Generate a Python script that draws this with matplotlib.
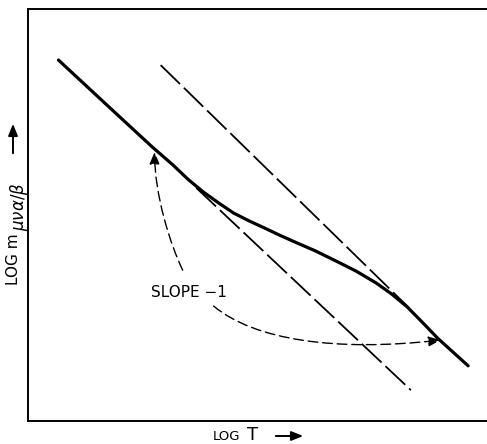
import matplotlib
matplotlib.use("Agg")
import matplotlib.pyplot as plt
from matplotlib.path import Path
from matplotlib.patches import FancyArrowPatch

# log T / log m, arbitrary units
log_t = [0.65, 1.78, 2.65, 3.09, 3.41, 3.74, 4.07, 4.39, 4.72, 5.04, 5.37,
         5.70, 6.13, 6.57, 7.00, 7.43, 7.76, 8.09, 8.41, 8.74, 9.39]
log_m = [7.85, 6.78, 5.96, 5.57, 5.26, 4.98, 4.74, 4.52, 4.35, 4.20, 4.04,
         3.89, 3.70, 3.48, 3.26, 3.00, 2.76, 2.48, 2.15, 1.80, 1.20]

# the two slope -1 asymptotes
low_t = [3.59, 8.17]
low_m = [5.07, 0.67]
high_t = [2.83, 8.13]
high_m = [7.74, 2.46]

# curved pointers from the label (start, two controls, tip)
ptr1_t = [3.30, 3.04, 2.70, 2.70]
ptr1_m = [3.28, 3.83, 4.91, 5.85]
ptr2_t = [3.96, 4.83, 6.57, 8.80]
ptr2_m = [2.50, 1.76, 1.50, 1.76]

fig = plt.figure(figsize=(4.87, 4.44), dpi=100)
ax = fig.add_axes([28/487, 23/444, 1 - 28/487 + 0.02, 412/444])
ax.set_xlim(0, 10)
ax.set_ylim(0, 8.96)
ax.set_xticks([])
ax.set_yticks([])
for s in ["left", "top", "bottom"]:
    ax.spines[s].set_linewidth(1.4)
ax.spines["right"].set_visible(False)

ax.plot(log_t, log_m, color="black", lw=2.3, solid_capstyle="round",
        solid_joinstyle="round")
ax.plot(low_t, low_m, color="black", lw=1.3, dashes=(15, 3))
ax.plot(high_t, high_m, color="black", lw=1.3, dashes=(15, 3))

codes = [Path.MOVETO, Path.CURVE4, Path.CURVE4, Path.CURVE4]
for tt, mm in [(ptr1_t, ptr1_m), (ptr2_t, ptr2_m)]:
    p = Path(list(zip(tt, mm)), codes)
    arr = FancyArrowPatch(path=p, arrowstyle="-|>,head_length=0.6,head_width=0.25",
                          mutation_scale=12, color="black", lw=1.0,
                          linestyle=(0, (7, 3.5)))
    ax.add_patch(arr)

ax.text((186 - 28) / 46, (421 - 292) / 46, "SLOPE \u22121",
        fontsize=11, ha="center", va="center")

# axis labels
fig.text(227/487, 4/444, "LOG", fontsize=9.5, ha="center", va="baseline")
fig.text(253/487, 4/444, "T", fontsize=13, ha="center", va="baseline")
fig.patches.append(FancyArrowPatch((273/487, 8/444), (306/487, 8/444),
                                   transform=fig.transFigure, figure=fig,
                                   arrowstyle="-|>,head_length=0.5,head_width=0.2",
                                   mutation_scale=14, color="black", lw=1.4))

fig.text(14/487, (444 - 259)/444, "LOG m", fontsize=11, rotation=90,
         ha="center", va="center")
fig.text(19/487, (444 - 207)/444, r"$\mu\nu\alpha/\beta$", fontsize=12,
         rotation=90, ha="center", va="center")
fig.patches.append(FancyArrowPatch((13/487, (444 - 156)/444), (13/487, (444 - 121)/444),
                                   transform=fig.transFigure, figure=fig,
                                   arrowstyle="-|>,head_length=0.5,head_width=0.2",
                                   mutation_scale=14, color="black", lw=1.4))

fig.savefig("out.png", dpi=100)
